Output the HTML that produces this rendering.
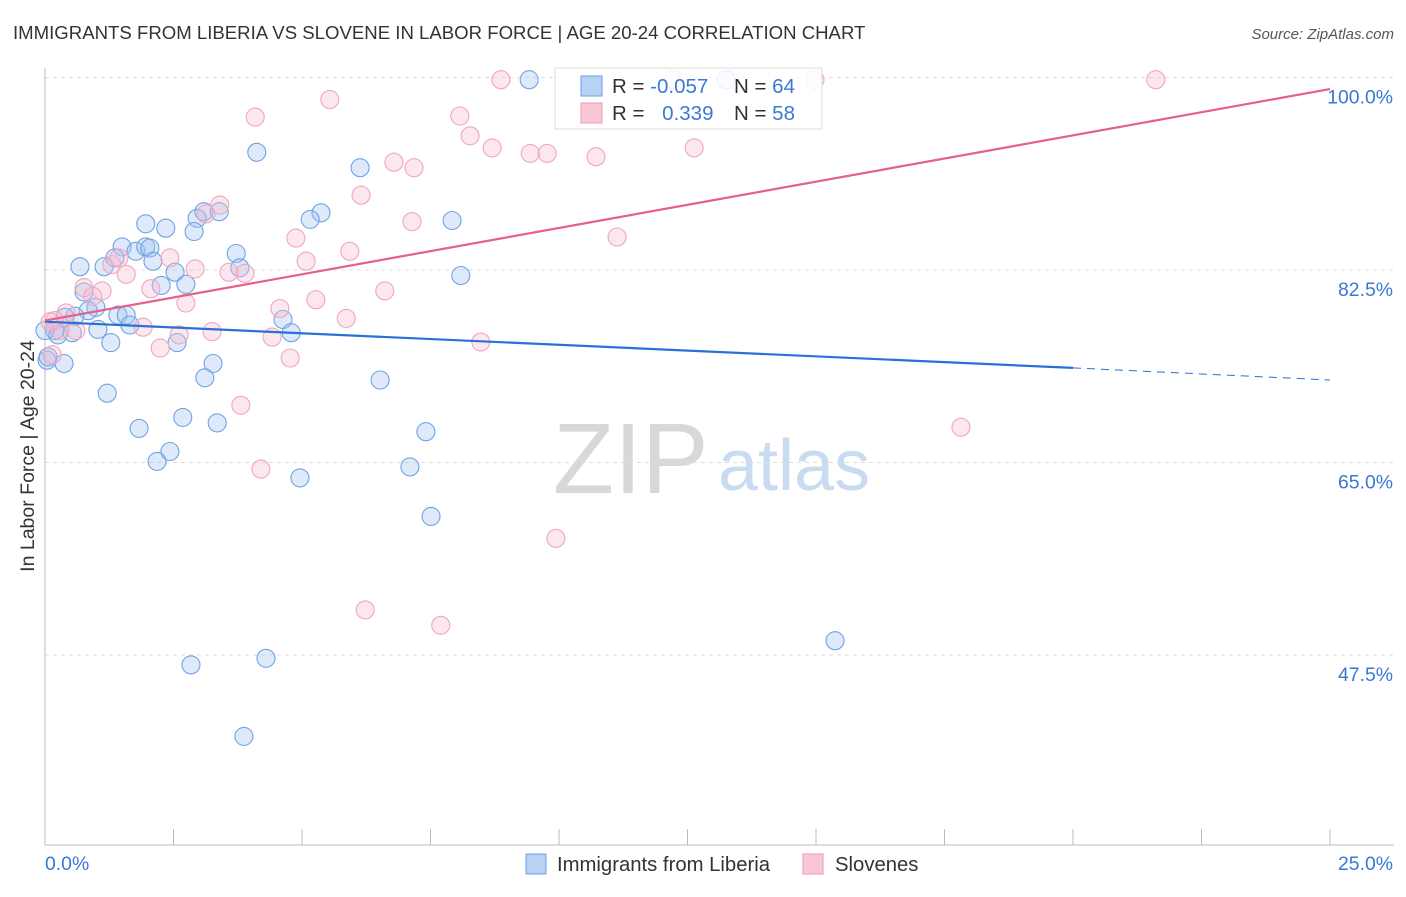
<!DOCTYPE html>
<html><head><meta charset="utf-8">
<style>
body{margin:0;background:#fff;font-family:"Liberation Sans",sans-serif;}
svg text{font-family:"Liberation Sans",sans-serif;}
</style></head>
<body>
<svg id="chart" width="1406" height="892" viewBox="0 0 1406 892" xmlns="http://www.w3.org/2000/svg">
<text x="13" y="39" font-size="18.6" fill="#333">IMMIGRANTS FROM LIBERIA VS SLOVENE IN LABOR FORCE | AGE 20-24 CORRELATION CHART</text>
<text x="1394" y="39" font-size="15" fill="#555" font-style="italic" text-anchor="end">Source: ZipAtlas.com</text>
<g>
<text x="553" y="493" font-size="100" fill="#d8d8d8" font-family="Liberation Serif, serif">ZIP</text>
<text x="718" y="490" font-size="72" fill="#c9dbf0">atlas</text>
</g>
<g id="grid"></g>
<g id="axes"></g>
<g id="pts"></g>
<g id="trend"></g>
<text transform="translate(34,456) rotate(-90)" font-size="19.5" fill="#333" text-anchor="middle">In Labor Force | Age 20-24</text>
<g>
<rect x="555" y="68" width="267" height="61" fill="#fff" fill-opacity="0.85" stroke="#ddd"/>
<rect x="581" y="76" width="21" height="20" fill="#b8d2f4" stroke="#6a9de0"/>
<rect x="581" y="103" width="21" height="20" fill="#f8c6d6" stroke="#ec9ab4"/>
<text x="612" y="93" font-size="20.5" fill="#333">R = <tspan fill="#3b78d4">-0.057</tspan></text>
<text x="734" y="93" font-size="20.5" fill="#333">N = <tspan fill="#3b78d4">64</tspan></text>
<text x="612" y="120" font-size="20.5" fill="#333">R = <tspan fill="#3b78d4" dx="12">0.339</tspan></text>
<text x="734" y="120" font-size="20.5" fill="#333">N = <tspan fill="#3b78d4">58</tspan></text>
</g>
<g>
<rect x="526" y="854" width="20" height="20" fill="#b8d2f4" stroke="#6a9de0"/>
<text x="557" y="871" font-size="20.3" fill="#333">Immigrants from Liberia</text>
<rect x="803" y="854" width="20" height="20" fill="#f8c6d6" stroke="#ec9ab4"/>
<text x="835" y="871" font-size="20.3" fill="#333">Slovenes</text>
</g>
</svg>
<script>
const yTicks=[100,82.5,65,47.5];
const yTickLabels=["100.0%","82.5%","65.0%","47.5%"];
const xTickLabels=["0.0%","25.0%"];
const blueX=[9.42,13.25,4.12,6.13,1.96,2.35,3.09,3.39,2.96,5.37,5.16,7.92,2.90,1.50,1.77,1.96,2.04,2.10,1.36,0.68,1.15,2.53,3.72,3.79,8.09,2.74,2.26,0.76,0.99,0.84,1.42,1.58,0.58,0.39,1.65,4.63,4.79,1.03,0.19,0.25,0.53,1.28,2.57,0.04,0.37,3.27,3.11,6.52,1.21,2.68,3.35,1.83,7.41,2.43,2.18,7.10,4.96,7.51,15.37,2.84,4.30,3.87,0.0,0.06];
const blueY=[99.8,99.8,93.2,91.8,86.7,86.3,87.8,87.8,87.2,87.7,87.1,87.0,86.0,84.6,84.2,84.6,84.5,83.3,83.6,82.8,82.8,82.3,84.0,82.7,82.0,81.2,81.1,80.5,79.1,78.8,78.4,78.4,78.3,78.2,77.5,78.0,76.8,77.1,77.0,76.6,76.8,75.9,75.9,74.3,74.0,74.0,72.7,72.5,71.3,69.1,68.6,68.1,67.8,66.0,65.1,64.6,63.6,60.1,48.8,46.6,47.2,40.1,77.0,74.6];
const pinkX=[8.87,12.22,14.98,21.61,5.54,4.09,8.07,8.27,8.70,9.44,9.77,10.72,12.63,6.79,7.18,6.15,3.40,7.14,3.13,4.88,11.13,5.93,5.08,2.43,2.92,3.58,3.89,1.58,1.30,1.44,0.76,1.11,2.06,6.61,0.93,2.74,5.27,4.57,0.41,0.19,5.86,1.91,2.61,3.25,0.60,4.42,2.24,8.48,4.77,0.14,3.81,17.82,4.20,9.94,6.23,7.70,0.29,0.10];
const pinkY=[99.8,99.8,99.8,99.8,98.0,96.4,96.5,94.7,93.6,93.1,93.1,92.8,93.6,92.3,91.8,89.3,88.4,86.9,87.6,85.4,85.5,84.2,83.3,83.6,82.6,82.3,82.2,82.1,83.0,83.6,80.9,80.6,80.8,80.6,80.1,79.5,79.8,79.0,78.6,77.9,78.1,77.3,76.6,76.9,77.0,76.4,75.4,75.95,74.5,74.8,70.2,68.2,64.4,58.1,51.6,50.2,77.0,77.8];
const blueTrend=[77.8,73.6,72.5]; // at x=0, 20, 25
const pinkTrend=[77.9,98.95]; // at x=0, 25
const NS="http://www.w3.org/2000/svg";
const sx=v=>45+v/25*1285;
const sy=v=>77.5+(100-v)*11;
function mk(tag,attrs,parent){const e=document.createElementNS(NS,tag);for(const k in attrs)e.setAttribute(k,attrs[k]);parent.appendChild(e);return e;}
const grid=document.getElementById('grid'),axes=document.getElementById('axes'),pts=document.getElementById('pts'),trend=document.getElementById('trend');
yTicks.forEach((t,i)=>{
 const l=mk('line',{x1:45,x2:1394,y1:sy(t),y2:sy(t),stroke:'#ddd','stroke-dasharray':'4,4'},grid);
 
 
 const tx=mk('text',{x:1393,y:sy(t)+26,'font-size':19.4,fill:'#3b78d4','text-anchor':'end'},axes);
 tx.textContent=yTickLabels[i];
 
 
});
mk('line',{x1:45,x2:45,y1:68,y2:845,stroke:'#bbb'},axes);
mk('line',{x1:45,x2:1394,y1:845,y2:845,stroke:'#bbb'},axes);
for(let i=0;i<=10;i++){mk('line',{x1:sx(i*2.5),x2:sx(i*2.5),y1:829,y2:845,stroke:'#bbb'},axes);}
const x0=mk('text',{x:45,y:870,'font-size':19.4,fill:'#3b78d4'},axes);x0.textContent=xTickLabels[0];


const x1=mk('text',{x:1393,y:870,'font-size':19.4,fill:'#3b78d4','text-anchor':'end'},axes);x1.textContent=xTickLabels[1];


blueX.forEach((v,i)=>{
 const c=mk('circle',{cx:sx(v),cy:sy(blueY[i]),r:9,fill:'rgba(160,196,240,0.35)',stroke:'#6fa3e6','stroke-width':1.1},pts);
 
 
});
pinkX.forEach((v,i)=>{
 const c=mk('circle',{cx:sx(v),cy:sy(pinkY[i]),r:9,fill:'rgba(246,185,206,0.35)',stroke:'#f0a6be','stroke-width':1.1},pts);
 
 
});
const b1=mk('line',{x1:sx(0),y1:sy(blueTrend[0]),x2:sx(20),y2:sy(blueTrend[1]),stroke:'#2a70d6','stroke-width':2.2},trend);


const b2=mk('line',{x1:sx(20),y1:sy(blueTrend[1]),x2:sx(25),y2:sy(blueTrend[2]),stroke:'#2a70d6','stroke-width':1,'stroke-dasharray':'8,6'},trend);


const p1=mk('line',{x1:sx(0),y1:sy(pinkTrend[0]),x2:sx(25),y2:sy(pinkTrend[1]),stroke:'#e4608a','stroke-width':2.2},trend);


</script>
</body></html>
